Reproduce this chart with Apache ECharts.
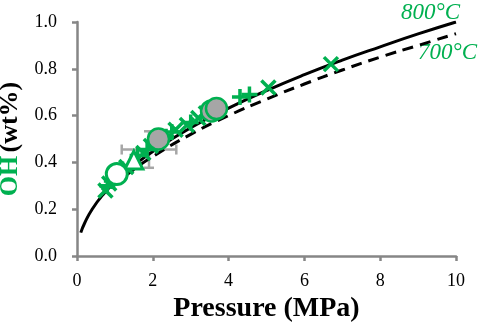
<!DOCTYPE html>
<html>
<head>
<meta charset="utf-8">
<script src="https://cdn.jsdelivr.net/npm/echarts@6/dist/echarts.min.js"></script>
<style>
  html, body { margin: 0; padding: 0; background: #fff; }
  #chart { width: 484px; height: 322px; }
</style>
</head>
<body>
<div id="chart"></div>
<script>
// model curves [pressure MPa, OH wt%]
const curve800 = [[0.1,0.10],[0.2,0.14],[0.4,0.20],[0.7,0.265],[1,0.316],[1.5,0.387],[2,0.447],[3,0.548],[4,0.632],[5,0.707],[6,0.775],[7,0.837],[8,0.894],[9,0.949],[10,1.0]];
const curve700 = [[0.9,0.295],[1.5,0.37],[2,0.425],[3,0.52],[4,0.60],[5,0.67],[6,0.735],[7,0.795],[8,0.85],[9,0.90],[10,0.95]];

// measured points
const crossPts = [[0.75,0.28],[0.85,0.31],[1.3,0.38],[1.75,0.44],[1.95,0.47],[2.6,0.54],[2.9,0.56],[3.2,0.59],[3.4,0.61],[5.05,0.72],[6.7,0.82]];
const plusPts = [[0.8,0.30],[0.92,0.32],[1.2,0.37],[1.6,0.43],[1.85,0.455],[2.35,0.51],[2.5,0.53],[3.0,0.57],[4.3,0.68],[4.55,0.69]];
const openCircle = [[1.05,0.35]];
const openTriangle = [[1.5,0.41]];
const grayCircle = [[2.15,0.50],[3.55,0.62],[3.68,0.63]];
// error bar: [x, y, xErr, yErr]
const errBars = [[1.9,0.455,0.72,0.078]];

const xTicks = [0,2,4,6,8,10];

const green = '#00B050';
const axisGray = '#868686';

const chart = echarts.init(document.getElementById('chart'));

const option = {
  backgroundColor: '#fff',
  animation: false,
  grid: { left: 77, right: 28, top: 22, bottom: 66, containLabel: false, outerBoundsMode: 'none' },
  xAxis: {
    type: 'value', min: 0, max: 10, interval: 2,
    name: 'Pressure (MPa)', nameLocation: 'middle', nameGap: 24,
    nameTextStyle: { fontFamily: 'Liberation Serif', fontWeight: 'bold', fontSize: 28, color: '#000' },
    axisLine: { lineStyle: { color: axisGray, width: 2.5 } },
    axisTick: { length: 5, lineStyle: { color: axisGray, width: 2.5 } },
    axisLabel: { margin: 16, fontFamily: 'Liberation Serif', fontSize: 18, color: '#000',
      formatter: v => xTicks.indexOf(v) >= 0 ? String(v) : '' },
    splitLine: { show: false }
  },
  yAxis: {
    type: 'value', min: 0, max: 1, interval: 0.2,
    name: '{g|OH} {b|(wt%)}', nameLocation: 'middle', nameGap: 43, nameRotate: 90,
    nameTextStyle: {
      rich: {
        g: { fontFamily: 'Liberation Serif', fontWeight: 'bold', fontSize: 26, color: green },
        b: { fontFamily: 'Liberation Serif', fontWeight: 'bold', fontSize: 26, color: '#000' }
      }
    },
    axisLine: { show: true, lineStyle: { color: axisGray, width: 2.5 } },
    axisTick: { show: true, length: 5, lineStyle: { color: axisGray, width: 2.5 } },
    axisLabel: { margin: 20, fontFamily: 'Liberation Serif', fontSize: 18, color: '#000',
      formatter: v => v.toFixed(1) },
    splitLine: { show: false }
  },
  graphic: [
    { type: 'text', left: 401, top: 1, style: { text: '800°C', fill: green, font: 'italic 23px "Liberation Serif"' } },
    { type: 'text', left: 418, top: 41, style: { text: '700°C', fill: green, font: 'italic 23px "Liberation Serif"' } }
  ],
  series: [
    {
      type: 'custom', z: 1,
      renderItem: (params, api) => {
        const x = api.value(0), y = api.value(1), dx = api.value(2), dy = api.value(3);
        const l = api.coord([x - dx, y]), r = api.coord([x + dx, y]);
        const t = api.coord([x, y + dy]), b = api.coord([x, y - dy]);
        const st = { stroke: '#A6A6A6', lineWidth: 2.5 };
        const cap = 5;
        return { type: 'group', children: [
          { type: 'line', shape: { x1: l[0], y1: l[1], x2: r[0], y2: r[1] }, style: st },
          { type: 'line', shape: { x1: t[0], y1: t[1], x2: b[0], y2: b[1] }, style: st },
          { type: 'line', shape: { x1: l[0], y1: l[1] - cap, x2: l[0], y2: l[1] + cap }, style: st },
          { type: 'line', shape: { x1: r[0], y1: r[1] - cap, x2: r[0], y2: r[1] + cap }, style: st },
          { type: 'line', shape: { x1: t[0] - cap, y1: t[1], x2: t[0] + cap, y2: t[1] }, style: st },
          { type: 'line', shape: { x1: b[0] - cap, y1: b[1], x2: b[0] + cap, y2: b[1] }, style: st }
        ]};
      },
      data: errBars
    },
    {
      type: 'line', data: curve800, smooth: true, showSymbol: false, z: 2,
      lineStyle: { color: '#000', width: 3 }
    },
    {
      type: 'line', data: curve700, smooth: true, showSymbol: false, z: 2,
      lineStyle: { color: '#000', width: 3, type: [11, 7] }
    },
    {
      type: 'scatter', data: crossPts, z: 3,
      symbol: 'path://M0,0L10,10M10,0L0,10', symbolSize: 14,
      itemStyle: { color: 'none', borderColor: green, borderWidth: 3.5, opacity: 1 }
    },
    {
      type: 'scatter', data: plusPts, z: 3,
      symbol: 'path://M5,0L5,10M0,5L10,5', symbolSize: 16,
      itemStyle: { color: 'none', borderColor: green, borderWidth: 3.5, opacity: 1 }
    },
    {
      type: 'scatter', data: openTriangle, z: 4,
      symbol: 'triangle', symbolSize: 18,
      itemStyle: { color: '#fff', borderColor: green, borderWidth: 3, opacity: 1 }
    },
    {
      type: 'scatter', data: openCircle, z: 4,
      symbol: 'circle', symbolSize: 21,
      itemStyle: { color: '#fff', borderColor: green, borderWidth: 3, opacity: 1 }
    },
    {
      type: 'scatter', data: grayCircle, z: 5,
      symbol: 'circle', symbolSize: 21,
      itemStyle: { color: '#A6A6A6', borderColor: green, borderWidth: 2.5, opacity: 1 }
    }
  ]
};

chart.setOption(option);
</script>
</body>
</html>
